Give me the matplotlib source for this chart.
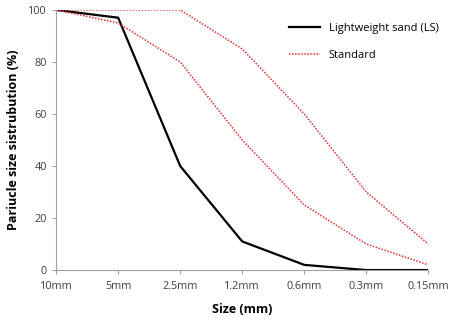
import matplotlib
matplotlib.use("Agg")
import matplotlib.pyplot as plt

sizes = ["10mm", "5mm", "2.5mm", "1.2mm", "0.6mm", "0.3mm", "0.15mm"]
ls_sand = [100, 97, 40, 11, 2, 0, 0]
std_upper = [100, 100, 100, 85, 60, 30, 10]
std_lower = [100, 95, 80, 50, 25, 10, 2]

plt.rcParams['font.family'] = ['Open Sans', 'DejaVu Sans']

fig = plt.figure(figsize=(4.49, 3.2), dpi=100)
ax = fig.add_axes([0.125, 0.156, 0.829, 0.813])

x = list(range(len(sizes)))
ax.plot(x, ls_sand, color='black', linewidth=1.6, label='Lightweight sand (LS)')
ax.plot(x, std_upper, color='#e03030', linestyle=(0, (1, 1)), linewidth=1.1, label='Standard')
ax.plot(x, std_lower, color='#e03030', linestyle=(0, (1, 1)), linewidth=1.1)

ax.set_xlim(0, len(sizes) - 1)
ax.set_ylim(0, 100)
ax.set_xticks(x)
ax.set_xticklabels(sizes)
ax.set_yticks([0, 20, 40, 60, 80, 100])
ax.tick_params(labelsize=7.8, colors='#404040', length=3, color='#a0a0a0')
ax.tick_params(axis='x', pad=5)
for s in ['top', 'right']:
    ax.spines[s].set_visible(False)
for s in ['left', 'bottom']:
    ax.spines[s].set_color('#a0a0a0')

ax.set_xlabel('Size (mm)', fontsize=9, fontweight='bold', labelpad=8)
ax.set_ylabel('Pariucle size sistrubution (%)', fontsize=9, fontweight='bold', labelpad=6)

ax.legend(loc='upper right', bbox_to_anchor=(1.055, 0.99), frameon=False, fontsize=8,
          handlelength=2.8, labelspacing=1.5)

fig.savefig('out.png', dpi=100)
